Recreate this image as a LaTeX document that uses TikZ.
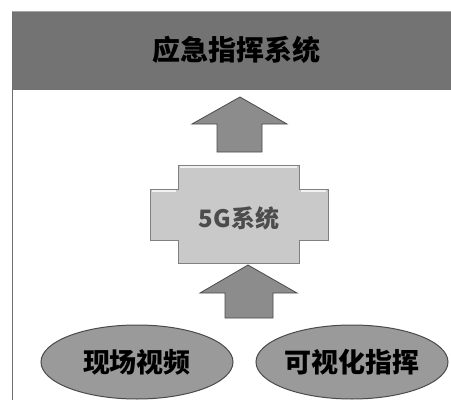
\documentclass[tikz,border=0pt]{standalone}
\usepackage{fontspec}
\newfontfamily\cjk{Noto Sans CJK SC}
\usetikzlibrary{shapes.geometric}
\definecolor{hdr}{HTML}{737373}
\definecolor{arr}{HTML}{8C8C8C}
\definecolor{crossfill}{HTML}{C9C9C9}
\definecolor{ell}{HTML}{9A9A9A}
\definecolor{edge}{HTML}{4A4A4A}
\tikzset{
  uparrow/.style={fill=arr, draw=edge, line width=0.8pt, line join=miter},
  ellnode/.style={ellipse, fill=ell, draw=edge, line width=1pt, minimum width=192pt, minimum height=74pt, inner sep=0pt, font=\cjk\bfseries\fontsize{27}{27}\selectfont},
  titletext/.style={font=\cjk\bfseries\fontsize{28}{28}\selectfont},
}
\begin{document}
\begin{tikzpicture}[x=1pt,y=-1pt]
\useasboundingbox (0,0) rectangle (451,400);
\fill[white] (0,0) rectangle (451,400);
% header band
\fill[hdr] (12,11) rectangle (451,90);
\draw[edge!80, line width=1pt] (12,11) -- (12,400);
\draw[gray!70, line width=0.6pt] (12,11) -- (451,11);
\node[titletext, text=black] (title) at (237,50) {应急指挥系统};
% arrow 1 (to header)
\draw[uparrow] (217,152) -- (217,124) -- (192,124) -- (240,97) -- (287,124) -- (262,124) -- (262,152) -- cycle;
\coordinate (a1) at (240,97);
% cross shape
\draw[fill=crossfill, draw=edge!70, line width=0.9pt]
  (178,165) -- (299,165) -- (299,189) -- (328,189) -- (328,240) -- (299,240) -- (299,263)
  -- (178,263) -- (178,240) -- (150,240) -- (150,189) -- (178,189) -- cycle;
\draw[white!90!gray, line width=1.5pt] (180,167) -- (297,167);
\draw[white!90!gray, line width=1.5pt] (152,191) -- (176,191);
\draw[white!90!gray, line width=1.5pt] (301,191) -- (326,191);
\node[font=\cjk\bfseries\fontsize{24}{24}\selectfont, text=black!70] (sys) at (239,218) {5G系统};
% arrow 2 (to 5G)
\draw[uparrow] (225,318) -- (225,293) -- (200,293) -- (248,265) -- (297,293) -- (273,293) -- (273,318) -- cycle;
% ellipses
\node[ellnode] (video) at (137,362) {现场视频};
\node[ellnode] (cmd) at (352,362) {可视化指挥};
\end{tikzpicture}
\end{document}
